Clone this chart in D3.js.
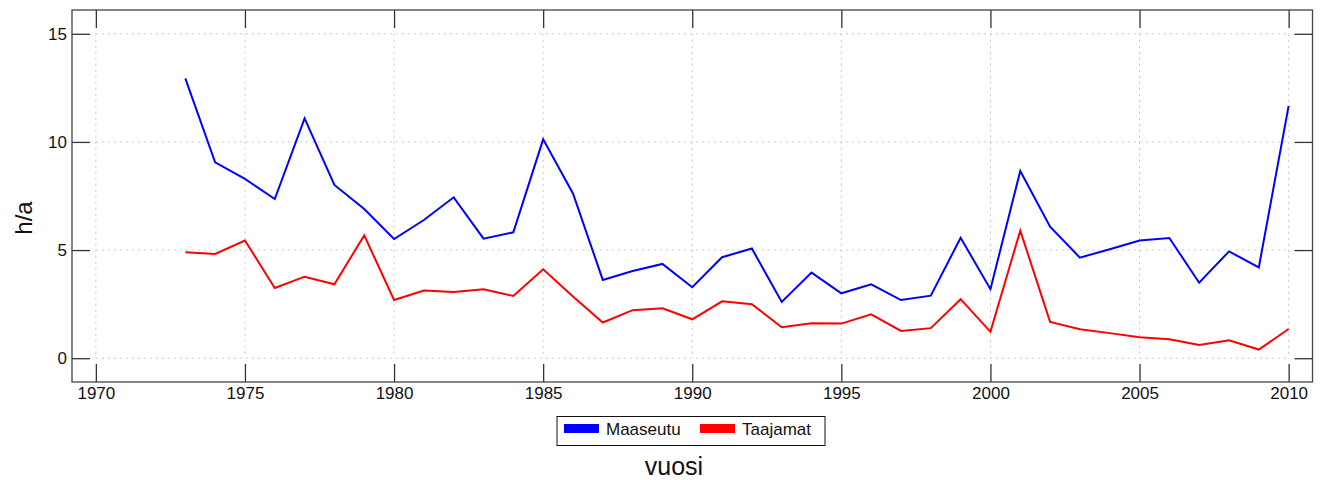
<!DOCTYPE html>
<html>
<head>
<meta charset="utf-8">
<script src="https://cdn.jsdelivr.net/npm/d3@7"></script>
<style>
  body { margin: 0; background: #fff; }
  text { font-family: "Liberation Sans", Arial, sans-serif; fill: #111; }
</style>
</head>
<body>
<div id="chart"></div>
<script>
var years = d3.range(1973, 2011)
var maaseutu = [12.94, 9.06, 8.29, 7.36, 11.09, 8.01, 6.90, 5.51, 6.39, 7.44,
    5.53, 5.82, 10.12, 7.62, 3.62, 4.03, 4.36, 3.28, 4.67, 5.07,
    2.60, 3.96, 3.00, 3.42, 2.69, 2.89, 5.57, 3.19, 8.66, 6.08,
    4.65, 5.04, 5.44, 5.56, 3.49, 4.94, 4.20, 11.67]
var taajamat = [4.90, 4.82, 5.44, 3.25, 3.77, 3.42, 5.68, 2.69, 3.13, 3.06,
    3.19, 2.88, 4.11, 2.85, 1.65, 2.22, 2.31, 1.80, 2.63, 2.50,
    1.43, 1.62, 1.60, 2.03, 1.26, 1.39, 2.73, 1.22, 5.90, 1.68,
    1.34, 1.16, 0.97, 0.88, 0.61, 0.83, 0.40, 1.35]
var xTicks = [1970, 1975, 1980, 1985, 1990, 1995, 2000, 2005, 2010]
var yTicks = [0, 5, 10, 15]
var seriesNames = ["Maaseutu", "Taajamat"]
var seriesColours = ["#0000ff", "#ff0000"]

var W = 1327, H = 480
var box = {left: 72, top: 10, right: 1312.5, bottom: 382}
var tickLen = 18

var svg = d3.select("#chart").append("svg")
    .attr("width", W).attr("height", H)

var x = d3.scaleLinear().domain([1969.2, 2010.8]).range([box.left, box.right])
var y = d3.scaleLinear().domain([-1.1, 16.1]).range([box.bottom, box.top])

// dotted grid, spans first to last tick
var grid = svg.append("g")
grid.selectAll("line.vg").data(xTicks).enter().append("line")
    .attr("x1", d => x(d)).attr("x2", d => x(d))
    .attr("y1", y(15)).attr("y2", y(0))
    .style("stroke", "#c8c8c8").style("stroke-width", 1)
    .style("stroke-dasharray", "2,4")
grid.selectAll("line.hg").data(yTicks).enter().append("line")
    .attr("x1", x(1970)).attr("x2", x(2010))
    .attr("y1", d => y(d)).attr("y2", d => y(d))
    .style("stroke", "#c8c8c8").style("stroke-width", 1)
    .style("stroke-dasharray", "2,4")

// axes with inward ticks on all four sides
function styleAxis(g) {
    g.select(".domain").remove()
    g.selectAll(".tick line").style("stroke", "#333").style("stroke-width", 1.3)
    g.selectAll(".tick text").style("font-size", "17px")
        .style("font-family", "'Liberation Sans', Arial, sans-serif").style("fill", "#111")
}
svg.append("g").attr("transform", "translate(0," + box.bottom + ")")
    .call(d3.axisBottom(x).tickValues(xTicks).tickFormat(d3.format("d"))
        .tickSizeInner(-tickLen).tickSizeOuter(0).tickPadding(5))
    .call(styleAxis)
svg.append("g").attr("transform", "translate(0," + box.top + ")")
    .call(d3.axisTop(x).tickValues(xTicks).tickFormat("")
        .tickSizeInner(-tickLen).tickSizeOuter(0))
    .call(styleAxis)
svg.append("g").attr("transform", "translate(" + box.left + ",0)")
    .call(d3.axisLeft(y).tickValues(yTicks).tickFormat(d3.format("d"))
        .tickSizeInner(-tickLen).tickSizeOuter(0).tickPadding(5))
    .call(styleAxis)
svg.append("g").attr("transform", "translate(" + box.right + ",0)")
    .call(d3.axisRight(y).tickValues(yTicks).tickFormat("")
        .tickSizeInner(-tickLen).tickSizeOuter(0))
    .call(styleAxis)

// lines
var line = d3.line().x((d, i) => x(years[i])).y(d => y(d))
svg.selectAll("path.series").data([maaseutu, taajamat]).enter().append("path")
    .attr("class", "series")
    .attr("d", line)
    .style("fill", "none")
    .style("stroke", (d, i) => seriesColours[i])
    .style("stroke-width", 2)

// frame
svg.append("rect")
    .attr("x", box.left).attr("y", box.top)
    .attr("width", box.right - box.left).attr("height", box.bottom - box.top)
    .style("fill", "none").style("stroke", "#444").style("stroke-width", 1.3)

// axis labels
svg.append("text").attr("transform", "translate(32,218) rotate(-90)")
    .attr("text-anchor", "middle").style("font-size", "24px").text("h/a")
svg.append("text").attr("x", 674).attr("y", 475)
    .attr("text-anchor", "middle").style("font-size", "25px").text("vuosi")

// legend
var leg = svg.append("g")
leg.append("rect").attr("x", 557).attr("y", 416.5).attr("width", 268).attr("height", 29)
    .style("fill", "#fff").style("stroke", "#111").style("stroke-width", 1)
var legX = [564, 700]
seriesNames.forEach(function(name, i) {
    leg.append("rect").attr("x", legX[i]).attr("y", 424).attr("width", 35).attr("height", 9)
        .style("fill", seriesColours[i])
    leg.append("text").attr("x", legX[i] + 42).attr("y", 435)
        .style("font-size", "17px").text(name)
})
</script>
</body>
</html>
